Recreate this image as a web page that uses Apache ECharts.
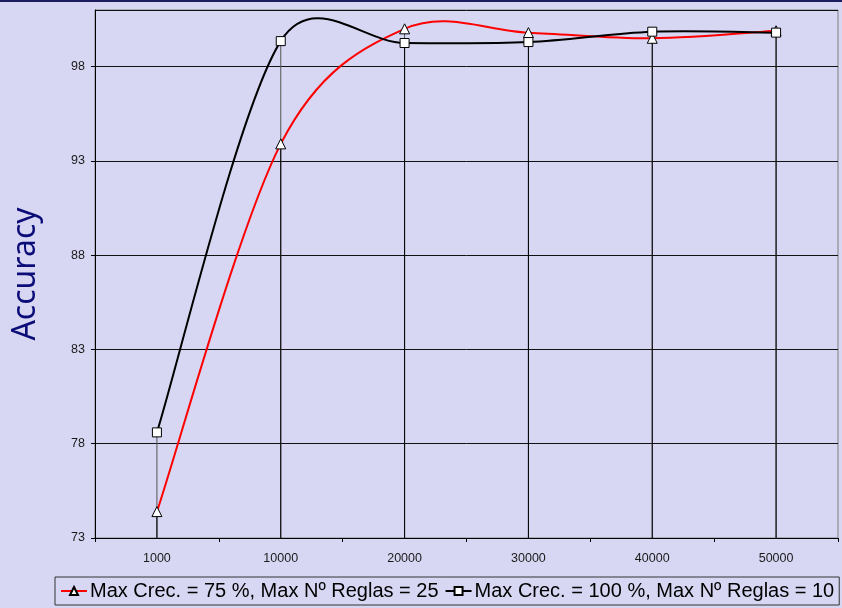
<!DOCTYPE html>
<html>
<head>
<meta charset="utf-8">
<script src="https://cdn.jsdelivr.net/npm/echarts@6/dist/echarts.min.js"></script>
<style>
  html, body { margin: 0; padding: 0; background: #d7d7f3; }
  #chart { width: 842px; height: 608px; }
</style>
</head>
<body>
<div id="chart"></div>
<script>
// Training-set sizes on the x axis
const categories = ['1000', '10000', '20000', '30000', '40000', '50000'];
// Accuracy for each configuration
const accuracy75 = [74.4, 93.9, 100.0, 99.8, 99.5, 99.9];
const accuracy100 = [78.6, 99.35, 99.25, 99.3, 99.85, 99.8];
const seriesNames = [
  'Max Crec. = 75 %, Max Nº Reglas = 25',
  'Max Crec. = 100 %, Max Nº Reglas = 10'
];
const lineColors = ['#ff0000', '#000000'];

// Drop lines: from the axis up to the higher / lower point of each category
const dropHigh = accuracy75.map((v, i) => Math.max(v, accuracy100[i]));
const dropLow = accuracy75.map((v, i) => Math.min(v, accuracy100[i]));

// Spreadsheet-style smoothed curve: cubic Bezier segments whose control
// arms follow the neighbouring points (Catmull-Rom, 1/6 of the chord),
// with each arm kept within half of its own segment.
function smoothCurve(values, color) {
  return function (params, api) {
    const pts = values.map((v, i) => api.coord([i, v]));
    const n = pts.length;
    const arm = (i) => {
      const prev = pts[Math.max(i - 1, 0)];
      const next = pts[Math.min(i + 1, n - 1)];
      return [(next[0] - prev[0]) / 6, (next[1] - prev[1]) / 6];
    };
    const capped = (a, p, q) => {
      const len = Math.hypot(a[0], a[1]);
      const seg = Math.hypot(q[0] - p[0], q[1] - p[1]);
      const k = len > seg * 0.5 && len > 0 ? (seg * 0.5) / len : 1;
      return [a[0] * k, a[1] * k];
    };
    const children = [];
    for (let i = 0; i < n - 1; i++) {
      const p0 = pts[i], p1 = pts[i + 1];
      const a0 = capped(arm(i), p0, p1);
      const a1 = capped(arm(i + 1), p0, p1);
      children.push({
        type: 'bezierCurve',
        shape: {
          x1: p0[0], y1: p0[1],
          cpx1: p0[0] + a0[0], cpy1: p0[1] + a0[1],
          cpx2: p1[0] - a1[0], cpy2: p1[1] - a1[1],
          x2: p1[0], y2: p1[1]
        },
        style: { stroke: color, lineWidth: 2, fill: null }
      });
    }
    return { type: 'group', children: children };
  };
}

const chart = echarts.init(document.getElementById('chart'), null, { renderer: 'canvas' });

const axisFont = { fontFamily: 'Liberation Sans, Arial, sans-serif', fontSize: 12.5, color: '#1a1a1a' };

chart.setOption({
  backgroundColor: '#d7d7f3',
  animation: false,
  graphic: [
    { type: 'rect', left: 0, top: 0, shape: { width: 842, height: 2 }, style: { fill: '#1c1c5c' } },
    {
      type: 'text', x: 26, y: 274, rotation: Math.PI / 2,
      style: {
        text: 'Accuracy', fill: '#0c0c78', font: '32px "Noto Sans", sans-serif',
        align: 'center', verticalAlign: 'middle'
      }
    }
  ],
  grid: {
    left: 95, right: 4, top: 10, bottom: 70,
    show: true, borderColor: '#808080', borderWidth: 1, backgroundColor: 'transparent'
  },
  legend: {
    data: seriesNames.map((name, i) => ({
      name: name,
      lineStyle: { color: lineColors[i], width: 2, opacity: 1 }
    })),
    orient: 'horizontal',
    bottom: 3, left: 55, width: 820,
    itemWidth: 26, itemHeight: 10, itemGap: 6,
    padding: [4, 5, 4, 5],
    borderColor: '#333', borderWidth: 1,
    textStyle: { fontFamily: 'Liberation Sans, Arial, sans-serif', fontSize: 20, color: '#000', padding: [0, 0, 0, -2] }
  },
  xAxis: {
    type: 'category',
    data: categories,
    boundaryGap: true,
    axisLine: { lineStyle: { color: '#000', width: 1 } },
    axisTick: { show: true, length: 4, inside: false, lineStyle: { color: '#000' } },
    axisLabel: Object.assign({ margin: 14 }, axisFont),
    splitLine: { show: false }
  },
  yAxis: {
    type: 'value',
    min: 73, max: 101, interval: 5,
    axisLine: { show: true, lineStyle: { color: '#000', width: 1 } },
    axisTick: { show: true, length: 4, lineStyle: { color: '#000' } },
    axisLabel: Object.assign({ margin: 10, showMaxLabel: false }, axisFont),
    splitLine: { show: true, lineStyle: { color: '#111', width: 1 } }
  },
  series: [
    {
      name: 'dropHigh', type: 'bar', data: dropHigh, barWidth: 1,
      itemStyle: { color: '#555' }, silent: true, z: 1
    },
    {
      name: 'dropLow', type: 'bar', data: dropLow, barWidth: 1, barGap: '-100%',
      itemStyle: { color: '#000' }, silent: true, z: 1
    },
    {
      name: 'curve75', type: 'custom', data: [0], silent: true, z: 2,
      renderItem: smoothCurve(accuracy75, lineColors[0])
    },
    {
      name: 'curve100', type: 'custom', data: [0], silent: true, z: 2,
      renderItem: smoothCurve(accuracy100, lineColors[1])
    },
    {
      name: seriesNames[0], type: 'line', data: accuracy75,
      symbol: 'triangle', symbolSize: 10, showAllSymbol: true,
      lineStyle: { color: lineColors[0], width: 2, opacity: 0 },
      itemStyle: { color: '#ffffff', borderColor: '#000', borderWidth: 1 },
      z: 3
    },
    {
      name: seriesNames[1], type: 'line', data: accuracy100,
      symbol: 'rect', symbolSize: 9, showAllSymbol: true,
      lineStyle: { color: lineColors[1], width: 2, opacity: 0 },
      itemStyle: { color: '#ffffff', borderColor: '#000', borderWidth: 1 },
      z: 4
    }
  ]
});
</script>
</body>
</html>
